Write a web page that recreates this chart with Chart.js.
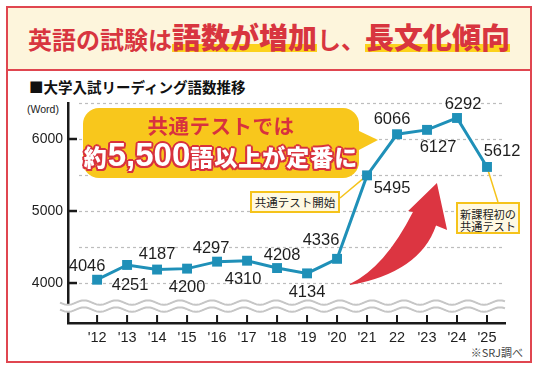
<!DOCTYPE html>
<html lang="ja">
<head>
<meta charset="utf-8">
<script src="https://cdn.jsdelivr.net/npm/chart.js@4.4.1/dist/chart.umd.min.js"></script>
<style>
  html, body { margin:0; padding:0; background:#fff; }
  body { width:540px; height:370px; position:relative; overflow:hidden; font-family:"Noto Sans CJK JP", sans-serif; }
  #frame { position:absolute; left:6px; top:6px; width:526px; height:357px; box-sizing:border-box; border:2.5px solid #e04650; }
  #header { position:absolute; left:0; top:0; right:0; height:63px; background:#fdf5dc; border-bottom:2.5px solid #e04650;
            display:flex; justify-content:center; align-items:baseline; padding-top:0; box-sizing:border-box; }
  #header .t { display:flex; align-items:baseline; margin-top:14px; color:#d8353f; line-height:1; }
  #header .s { font-size:24px; font-weight:700; }
  #header .b { font-size:29px; font-weight:900; background:linear-gradient(transparent 72%, #fcd21c 72%, #fcd21c 98%, transparent 98%); padding-bottom:2px; }
  #sub { position:absolute; left:29px; top:80px; font-size:14.5px; font-weight:700; color:#111; line-height:1; }
  #unit { position:absolute; left:27px; top:104px; font-size:10.5px; color:#222; line-height:1; font-family:"Liberation Sans","Noto Sans CJK JP",sans-serif; }
  #src { position:absolute; right:17px; top:347px; font-size:11px; color:#444; line-height:1; }
  canvas { position:absolute; left:0; top:0; z-index:1; }
  #callout { position:absolute; left:83px; top:108px; width:276px; height:70px; background:#f8c71c; border-radius:16px; z-index:2; text-align:center; }
  #callout::after { content:""; position:absolute; left:274px; top:22px; border-left:21px solid #f8c71c; border-top:10px solid transparent; border-bottom:11px solid transparent; }
  #callout .l1 { position:absolute; left:0; right:0; top:6px; font-size:20.5px; font-weight:700; color:#d8323e; line-height:1.1; letter-spacing:0.5px; }
  #callout .l2 { position:absolute; left:0; right:0; top:30px; color:#fff; font-weight:900; line-height:1; white-space:nowrap;
                 text-shadow: 2px 0 0 #d8323e, -2px 0 0 #d8323e, 0 2px 0 #d8323e, 0 -2px 0 #d8323e, 1.5px 1.5px 0 #d8323e, -1.5px 1.5px 0 #d8323e, 1.5px -1.5px 0 #d8323e, -1.5px -1.5px 0 #d8323e; }
  #callout .l2 .k { font-size:23px; letter-spacing:1px; }
  #callout .l2 .n { font-size:33px; font-family:"Liberation Sans","Noto Sans CJK JP",sans-serif; font-weight:700; }
  .box { position:absolute; z-index:2; background:#fff9e2; border:2px solid #f5c31b; box-sizing:border-box; color:#222; font-size:11.5px; text-align:center; line-height:1; }
  #box1 { left:250px; top:191px; width:90px; height:22px; padding-top:3.5px; }
  #box2 { left:456px; top:202px; width:64px; height:32px; padding-top:3.5px; line-height:12px; font-size:11.2px; }
</style>
</head>
<body>
<div id="frame">
  <div id="header"><div class="t"><span class="s">英語の試験は</span><span class="b">語数が増加</span><span class="s">し、</span><span class="b">長文化傾向</span></div></div>
</div>
<div id="sub">■大学入試リーディング語数推移</div>
<div id="unit">(Word)</div>
<div id="src">※SRJ調べ</div>
<div id="callout"><div class="l1">共通テストでは</div><div class="l2"><span class="k">約</span><span class="n">5,500</span><span class="k">語以上が定番に</span></div></div>
<div class="box" id="box1">共通テスト開始</div>
<div class="box" id="box2">新課程初の<br>共通テスト</div>
<canvas id="c" width="540" height="370" style="width:540px;height:370px"></canvas>
<script>
// ---- data ----
const years = [2012, 2013, 2014, 2015, 2016, 2017, 2018, 2019, 2020, 2021, 2022, 2023, 2024, 2025];
const yearLabels = ["'12", "'13", "'14", "'15", "'16", "'17", "'18", "'19", "'20", "'21", "22", "'23", "'24", "'25"];
const wordCounts = [4046, 4251, 4187, 4200, 4297, 4310, 4208, 4134, 4336, 5495, 6066, 6127, 6292, 5612];
const yTickValues = [4000, 5000, 6000];
const gridValues = [4000, 4500, 5000, 5500, 6000, 6500];

// label offsets (px) relative to each point: [dx, dy]
const labelOffsets = [[-10,-13],[3,20],[0,-15],[0,19],[-6,-13],[-4,19],[5,-13],[0,19],[-16,-18],[25,13],[-5,-15],[11,18],[6,-14],[15,-15]];

const LINE = '#1f90b8';

const decor = {
  id: 'decor',
  beforeDatasetsDraw(chart) {
    const {ctx, chartArea: a, scales: {x, y}} = chart;
    ctx.save();
    // dashed grid
    ctx.strokeStyle = '#bdbdbd'; ctx.lineWidth = 1.2; ctx.setLineDash([3, 3]);
    gridValues.forEach(v => {
      const py = Math.round(y.getPixelForValue(v)) + 0.5;
      ctx.beginPath(); ctx.moveTo(a.left + 11, py); ctx.lineTo(a.right, py); ctx.stroke();
    });
    ctx.setLineDash([]);
    // y tick marks (inside)
    ctx.strokeStyle = '#1a1a1a'; ctx.lineWidth = 2.5;
    yTickValues.forEach(v => {
      const py = y.getPixelForValue(v);
      ctx.beginPath(); ctx.moveTo(a.left, py); ctx.lineTo(a.left + 9, py); ctx.stroke();
    });
    // x tick marks (inside)
    ctx.lineWidth = 2;
    years.forEach(v => {
      const px = x.getPixelForValue(v);
      ctx.beginPath(); ctx.moveTo(px, a.bottom); ctx.lineTo(px, a.bottom - 8); ctx.stroke();
    });
    // wavy break
    const wy = y.getPixelForValue(3680);
    const x0 = a.left - 8, x1 = a.right;
    const wave = (off) => { const pts = []; for (let px = x0; px <= x1; px += 1) pts.push([px, wy + off + 2.2 * Math.sin((px - x0) / 32 * 2 * Math.PI)]); return pts; };
    const up = wave(-3.5), dn = wave(3.5);
    ctx.fillStyle = '#fff';
    ctx.beginPath(); up.forEach((p, i) => i ? ctx.lineTo(p[0], p[1]) : ctx.moveTo(p[0], p[1]));
    dn.slice().reverse().forEach(p => ctx.lineTo(p[0], p[1])); ctx.closePath(); ctx.fill();
    ctx.strokeStyle = '#c6c6c6'; ctx.lineWidth = 2;
    [up, dn].forEach(pts => { ctx.beginPath(); pts.forEach((p, i) => i ? ctx.lineTo(p[0], p[1]) : ctx.moveTo(p[0], p[1])); ctx.stroke(); });
    // red arrow (anchored in data space)
    const P = (yr, w) => [x.getPixelForValue(yr), y.getPixelForValue(w)];
    const T = P(2020.43, 3985), L = P(2022.53, 4985), LW = P(2022.37, 5000), TIP = P(2023.33, 5390), RW = P(2023.67, 4735), R = P(2023.3, 4800);
    const C1 = P(2021.6, 4220), C2 = P(2022.77, 4150);
    ctx.fillStyle = '#dc3541';
    ctx.beginPath();
    ctx.moveTo(T[0], T[1]);
    ctx.quadraticCurveTo(C1[0], C1[1], L[0], L[1]);
    ctx.lineTo(LW[0], LW[1]); ctx.lineTo(TIP[0], TIP[1]); ctx.lineTo(RW[0], RW[1]); ctx.lineTo(R[0], R[1]);
    ctx.quadraticCurveTo(C2[0], C2[1], T[0], T[1] + 1);
    ctx.closePath(); ctx.fill();
    // connectors from annotation boxes
    ctx.strokeStyle = '#f5c31b'; ctx.lineWidth = 1.5;
    const p21 = P(2021, wordCounts[9]), p25 = P(2025, wordCounts[13]);
    ctx.beginPath(); ctx.moveTo(340, 198); ctx.lineTo(p21[0], p21[1]); ctx.stroke();
    ctx.beginPath(); ctx.moveTo(498, 202); ctx.lineTo(p25[0], p25[1]); ctx.stroke();
    ctx.restore();
  },
  afterDatasetsDraw(chart) {
    const {ctx} = chart;
    const meta = chart.getDatasetMeta(0);
    ctx.save();
    ctx.font = '16.5px "Liberation Sans", sans-serif';
    ctx.fillStyle = '#1e1e1e'; ctx.textAlign = 'center'; ctx.textBaseline = 'middle';
    meta.data.forEach((pt, i) => {
      const [dx, dy] = labelOffsets[i];
      ctx.fillText(String(wordCounts[i]), pt.x + dx, pt.y + dy);
    });
    ctx.restore();
  }
};

new Chart(document.getElementById('c'), {
  type: 'line',
  data: {
    datasets: [{
      data: years.map((yr, i) => ({x: yr, y: wordCounts[i]})),
      borderColor: LINE, borderWidth: 3, backgroundColor: LINE,
      pointStyle: 'rect', pointRadius: 7, pointBackgroundColor: LINE, pointBorderWidth: 0,
      tension: 0
    }]
  },
  options: {
    responsive: false, animation: false, devicePixelRatio: 1,
    layout: {padding: {left: 8, top: 103, right: 35, bottom: 17}},
    plugins: {legend: {display: false}, tooltip: {enabled: false}},
    scales: {
      x: {
        type: 'linear', min: 2011.03, max: 2025.6,
        afterBuildTicks: s => { s.ticks = years.map(v => ({value: v})); },
        afterFit: s => { s.height = 30; },
        ticks: {callback: v => yearLabels[years.indexOf(v)], font: {family: '"Liberation Sans", sans-serif', size: 14.5}, color: '#1e1e1e', padding: 6, maxRotation: 0, autoSkip: false},
        grid: {display: false, drawTicks: false},
        border: {display: true, color: '#1a1a1a', width: 2.5}
      },
      y: {
        type: 'linear', min: 3445, max: 6500,
        afterBuildTicks: s => { s.ticks = yTickValues.map(v => ({value: v})); },
        afterFit: s => { s.width = 60; },
        ticks: {callback: v => String(v), font: {family: '"Liberation Sans", sans-serif', size: 14}, color: '#1e1e1e', padding: 5},
        grid: {display: false, drawTicks: false},
        border: {display: true, color: '#1a1a1a', width: 2.5}
      }
    }
  },
  plugins: [decor]
});
</script>
</body>
</html>
